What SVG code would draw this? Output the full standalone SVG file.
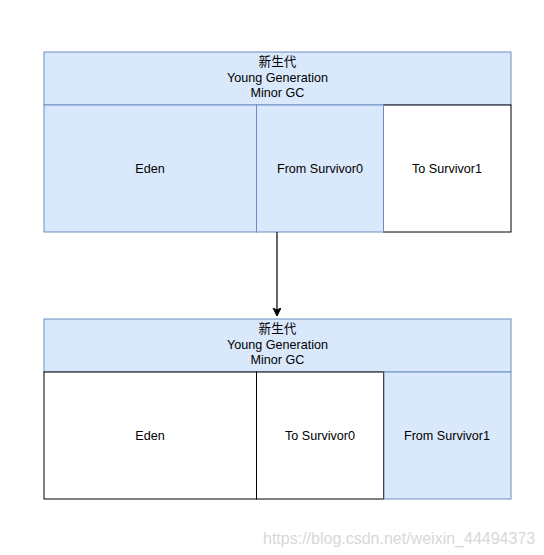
<svg xmlns="http://www.w3.org/2000/svg" width="544" height="555" viewBox="0 0 544 555">
<style>
.blue{fill:#dae8fc;stroke:#6c8ebf;stroke-width:1}
.white{fill:#ffffff;stroke:#000000;stroke-width:1}
text{font-family:"Liberation Sans",Arial,"Noto Sans CJK SC",sans-serif;font-size:12.6px;fill:#000;text-anchor:middle}
.wm{font-size:16px;fill:#d8d8d8;text-anchor:start}
</style>
<defs>
<marker id="arr" markerWidth="10" markerHeight="10" refX="7" refY="4" orient="auto" markerUnits="userSpaceOnUse">
<path d="M0,0 L8,4 L0,8 L2,4 Z" fill="#000" stroke="#000"/>
</marker>
</defs>
<rect width="544" height="555" fill="#fff"/>
<g id="top-gen">
<g id="top-header"><rect class="blue" x="44" y="52" width="467" height="53"/>
<text x="277.5" y="66">新生代</text><text x="277.5" y="82">Young Generation</text><text x="277.5" y="97">Minor GC</text></g>
<g id="top-to"><rect class="white" x="383.5" y="105" width="127.5" height="127"/><text x="447" y="172.5">To Survivor1</text></g>
<g id="top-eden"><rect class="blue" x="44" y="105" width="212.5" height="127"/><text x="150" y="172.5">Eden</text></g>
<g id="top-from"><rect class="blue" x="256.5" y="105" width="127" height="127"/><text x="320" y="172.5">From Survivor0</text></g>
</g>
<g id="connectors">
<line x1="277" y1="232" x2="277" y2="315" stroke="#000" stroke-width="1.2" marker-end="url(#arr)"/>
</g>
<g id="bottom-gen">
<g id="bot-header"><rect class="blue" x="44" y="319" width="467" height="53"/>
<text x="277.5" y="333">新生代</text><text x="277.5" y="349">Young Generation</text><text x="277.5" y="364">Minor GC</text></g>
<g id="bot-eden"><rect class="white" x="44" y="372" width="212.5" height="127"/><text x="150" y="439.5">Eden</text></g>
<g id="bot-to"><rect class="white" x="256.5" y="372" width="127" height="127"/><text x="320" y="439.5">To Survivor0</text></g>
<g id="bot-from"><rect class="blue" x="384" y="372" width="127" height="127"/><text x="447" y="439.5">From Survivor1</text></g>
</g>
<text class="wm" x="263" y="544">https://blog.csdn.net/weixin_44494373</text>
</svg>
